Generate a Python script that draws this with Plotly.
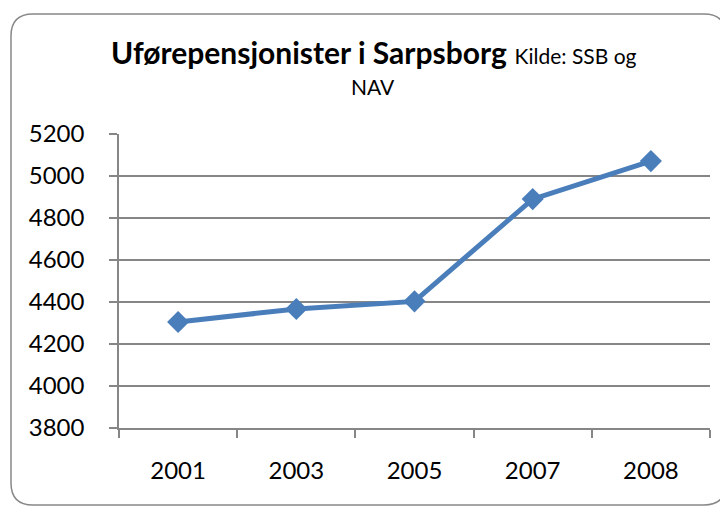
import plotly.graph_objects as go

years = ["2001", "2003", "2005", "2007", "2008"]
values = [4305, 4367, 4403, 4890, 5071]
y_ticks = [3800, 4000, 4200, 4400, 4600, 4800, 5000, 5200]

OFF = 8  # page body margin
W, H = 728 - OFF, 506 - OFF
L, R, T, B = 119 - OFF, 18, 134 - OFF, 78
pw, ph = W - L - R, H - T - B

def px(x):
    return (x - OFF - L) / pw

def py(y):
    return (H - B - (y - OFF)) / ph

# rounded border path (window pixel -> paper)
x0, x1, y0, y1, r = 11, 726, 14, 505, 22
path = (
    f"M {px(x0+r)},{py(y0)} L {px(x1-r)},{py(y0)} "
    f"Q {px(x1)},{py(y0)} {px(x1)},{py(y0+r)} "
    f"L {px(x1)},{py(y1-r)} Q {px(x1)},{py(y1)} {px(x1-r)},{py(y1)} "
    f"L {px(x0+r)},{py(y1)} Q {px(x0)},{py(y1)} {px(x0)},{py(y1-r)} "
    f"L {px(x0)},{py(y0+r)} Q {px(x0)},{py(y0)} {px(x0+r)},{py(y0)} Z"
)

font = "Lato, Carlito, Calibri, sans-serif"
grid = "#868686"

fig = go.Figure(go.Scatter(
    x=years, y=values, mode="lines+markers",
    line=dict(color="#4a7ebb", width=5),
    marker=dict(symbol="diamond", size=17, color="#4a7ebb"),
    showlegend=False, hoverinfo="x+y",
))

fig.update_layout(
    width=W, height=H,
    margin=dict(l=L, r=R, t=T, b=B),
    paper_bgcolor="white", plot_bgcolor="white",
    font=dict(family=font, color="black", size=24),
    shapes=[dict(type="path", path=path, xref="paper", yref="paper",
                 line=dict(color="#888888", width=1.5), layer="below")],
    annotations=[
        dict(text="<b>Uførepensjonister i Sarpsborg</b>"
                  " <span style='font-size:21px'>Kilde: SSB og</span>",
             xref="paper", yref="paper", x=px(373), y=py(52),
             xanchor="center", yanchor="middle", showarrow=False,
             font=dict(size=30, family=font)),
        dict(text="NAV", xref="paper", yref="paper", x=px(373), y=py(86),
             xanchor="center", yanchor="middle", showarrow=False,
             font=dict(size=21, family=font)),
    ],
)

fig.update_xaxes(
    type="category", range=[-0.5, len(years) - 0.5],
    tickson="boundaries", ticks="outside", ticklen=8,
    tickcolor=grid, tickwidth=1.5, showline=True, linecolor=grid, linewidth=1.5,
    showgrid=False, ticklabelstandoff=20, tickfont=dict(size=24),
)
fig.update_yaxes(
    range=[3800, 5200], tickmode="array", tickvals=y_ticks,
    ticks="outside", ticklen=8, tickcolor=grid, tickwidth=1.5,
    showline=True, linecolor=grid, linewidth=1.5,
    showgrid=True, gridcolor=grid, gridwidth=1.5,
    zeroline=False, ticklabelstandoff=20, tickfont=dict(size=24),
)

fig.write_html("out.html")
